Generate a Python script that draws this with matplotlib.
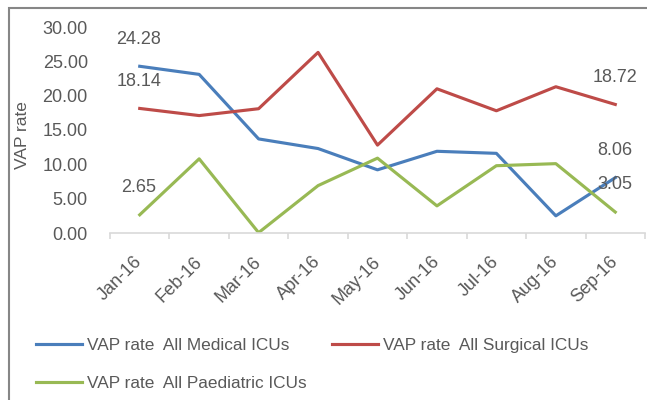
import matplotlib
matplotlib.use('Agg')
import matplotlib.pyplot as plt
from matplotlib.patches import Rectangle
from matplotlib.transforms import ScaledTranslation

months = ['Jan-16', 'Feb-16', 'Mar-16', 'Apr-16', 'May-16', 'Jun-16', 'Jul-16', 'Aug-16', 'Sep-16']
medical = [24.28, 23.1, 13.7, 12.3, 9.2, 11.9, 11.6, 2.5, 8.06]
surgical = [18.14, 17.1, 18.1, 26.3, 12.8, 21.0, 17.8, 21.3, 18.72]
paediatric = [2.65, 10.8, 0.05, 6.9, 10.9, 3.95, 9.8, 10.1, 3.05]
yticks = [0, 5, 10, 15, 20, 25, 30]

plt.rcParams['font.family'] = ['Liberation Sans', 'DejaVu Sans']
grey = '#595959'

fig = plt.figure(figsize=(6.47, 4.0), dpi=100)
ax = fig.add_axes([110 / 647, 1 - 233 / 400, 535 / 647, 206 / 400])

x = list(range(len(months)))
l1, = ax.plot(x, medical, color='#4A7EBB', lw=2.25, label='VAP rate  All Medical ICUs')
l2, = ax.plot(x, surgical, color='#BE4B48', lw=2.25, label='VAP rate  All Surgical ICUs')
l3, = ax.plot(x, paediatric, color='#98B954', lw=2.25, label='VAP rate  All Paediatric ICUs')

# data labels on first and last points
for series in (medical, surgical, paediatric):
    for i in (0, len(months) - 1):
        ax.annotate('%.2f' % series[i], (i, series[i]), xytext=(-0.5, 19.5),
                    textcoords='offset points', ha='center', va='center',
                    fontsize=13, color=grey)

ax.set_xlim(-0.5, len(months) - 0.5)
ax.set_ylim(0, 30)
ax.set_yticks(yticks)
ax.set_yticklabels(['%.2f' % v for v in yticks])
ax.tick_params(axis='y', length=0, pad=16, labelsize=13, labelcolor=grey)

ax.set_xticks(x)
ax.set_xticklabels(months, rotation=45, ha='right', va='top')
ax.set_xticks([i - 0.5 for i in range(len(months) + 1)], minor=True)
ax.tick_params(axis='x', which='major', length=0, pad=14.5, labelsize=13, labelcolor=grey)
ax.tick_params(axis='x', which='minor', length=4, width=1.2, color='#D9D9D9')
shift = ScaledTranslation(6 / 100, 0, fig.dpi_scale_trans)
for lbl in ax.get_xticklabels():
    lbl.set_transform(lbl.get_transform() + shift)

for s in ('top', 'right', 'left'):
    ax.spines[s].set_visible(False)
ax.spines['bottom'].set_color('#D9D9D9')
ax.spines['bottom'].set_linewidth(1.2)

ax.set_ylabel('VAP rate', fontsize=12.5, color=grey)
ax.yaxis.set_label_coords(-0.1495, 0.476)

fig.legend([l1, l3, l2], [l1.get_label(), l3.get_label(), l2.get_label()],
           loc='upper left', bbox_to_anchor=(36 / 647, 1 - 338 / 400),
           ncol=2, frameon=False, fontsize=12.4, labelcolor=grey,
           handlelength=2.65, handletextpad=0.3, columnspacing=1.5,
           labelspacing=1.35, borderpad=0, borderaxespad=0)

# outer chart border
fig.patches.append(Rectangle((8.5 / 647, -0.1), 1.2, 1 - 7.5 / 400 + 0.1,
                             transform=fig.transFigure, fill=False,
                             edgecolor='#868686', lw=1.5))

fig.savefig('out.png', dpi=100)
